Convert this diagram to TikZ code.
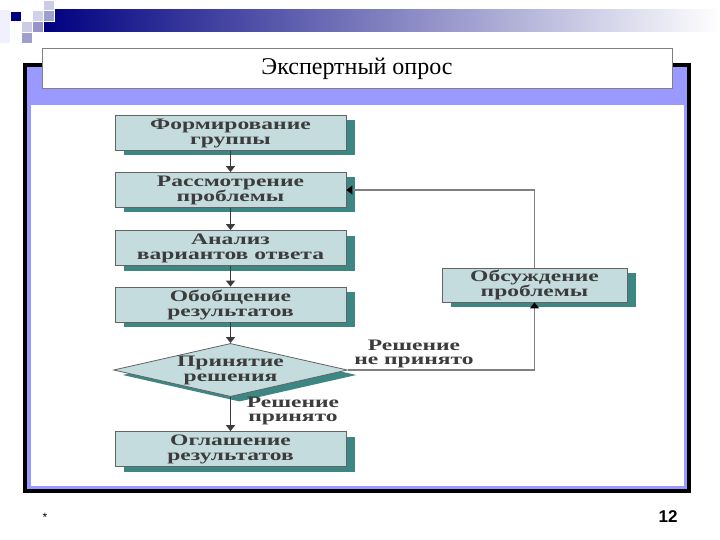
\documentclass[tikz,border=0pt]{standalone}
\usepackage{fontspec}
\setmainfont{Liberation Serif}
\newfontfamily\boxfont{Liberation Serif}[FakeStretch=1.47]
\newfontfamily\footfont{Liberation Sans}
\usepackage{tikz}
\usetikzlibrary{arrows.meta, shapes.geometric, shadows}

\definecolor{navybar}{RGB}{0,0,128}
\definecolor{framelav}{RGB}{153,153,255}
\definecolor{boxfill}{RGB}{196,220,222}
\definecolor{boxshade}{RGB}{60,135,132}
\definecolor{boxtext}{RGB}{60,60,60}

\begin{document}
\begin{tikzpicture}[x=1pt, y=-1pt, line width=1pt,
    stepbox/.style={rectangle, draw=boxtext!80, line width=0.8pt, fill=boxfill,
      minimum width=231pt, minimum height=35pt, inner sep=0pt, align=center,
      text=boxtext, font=\boxfont\bfseries\fontsize{16}{15}\selectfont,
      drop shadow={shadow xshift=9pt, shadow yshift=-5pt, fill=boxshade, opacity=1}},
    choice/.style={stepbox, diamond, minimum width=230pt, minimum height=52pt, aspect=4.4},
    flow/.style={draw=boxtext, line width=1.3pt, -{Triangle[width=9pt, length=6pt]}},
    back/.style={draw=gray, line width=1.1pt, -{Triangle[width=9pt, length=6pt, color=black]}},
    lbl/.style={align=center, inner sep=0pt, text=boxtext, font=\boxfont\bfseries\fontsize{16}{14}\selectfont}]
        \useasboundingbox (0,0) rectangle (720,540);
        
        % Top decoration
        \fill[blue!6] (0,10) rectangle (10,43);
        \shade[left color=navybar, middle color=navybar!55!white, right color=white] (43,10) rectangle (720,32);
        \fill[navybar, draw=white, line width=0.5pt] (10,11) rectangle (21,21);
        \fill[navybar!20!white, draw=white, line width=0.5pt] (43,0) rectangle (54,10);
        \fill[navybar!18!white, draw=white, line width=0.5pt] (32,10) rectangle (43,21);
        \fill[navybar!38!white, draw=white, line width=0.5pt] (43,10) rectangle (54,21);
        \fill[navybar!20!white, draw=white, line width=0.5pt] (21,21) rectangle (32,32);
        \fill[navybar!42!white, draw=white, line width=0.5pt] (32,21) rectangle (43,32);
        \fill[navybar!38!white, draw=white, line width=0.5pt] (21,32) rectangle (32,43);
        
        % Frame
        \fill[black] (23,63) rectangle (691,493);
        \fill[framelav] (27,67) rectangle (687,489);
        \fill[white] (31,105) rectangle (684,486);
        
        % Title
        \node[draw=gray, line width=1pt, fill=white, minimum width=630pt, minimum height=40pt,
              font=\fontsize{24}{28}\selectfont] (title) at (357,69) {Экспертный опрос};
        
        % Steps
        \node[stepbox] (group) at (230.5,133) {Формирование\\группы};
        \node[stepbox] (review) at (230.5,190) {Рассмотрение\\проблемы};
        \node[stepbox] (variants) at (230.5,248) {Анализ\\вариантов ответа};
        \node[stepbox] (summary) at (230.5,304.5) {Обобщение\\результатов};
        \node[choice] (decide) at (230.5,370) {Принятие\\решения};
        \node[stepbox] (announce) at (230.5,449) {Оглашение\\результатов};
        \node[stepbox, minimum width=185pt, minimum height=34pt] (discuss) at (534.5,285) {Обсуждение\\проблемы};
        
        % Main flow
        \draw[flow] (group) -- (review);
        \draw[flow] (review) -- (variants);
        \draw[flow] (variants) -- (summary);
        \draw[flow] (summary) -- (decide);
        \draw[flow] (decide) -- (announce);
        
        % Loop back
        \draw[back] (decide.east) -| (discuss.south);
        \draw[back] (discuss.north) |- (review.east);
        
        % Labels
        \node[lbl] (notaken) at (414,354) {Решение\\не принято};
        \node[lbl] (taken) at (293,411) {Решение\\принято};
        
        % Footer
        \node[font=\footfont\fontsize{12}{14}\selectfont] (star) at (45,517) {*};
        \node[font=\footfont\bfseries\fontsize{17}{20}\selectfont] (page) at (668,517) {12};
    \end{tikzpicture}
\end{document}
